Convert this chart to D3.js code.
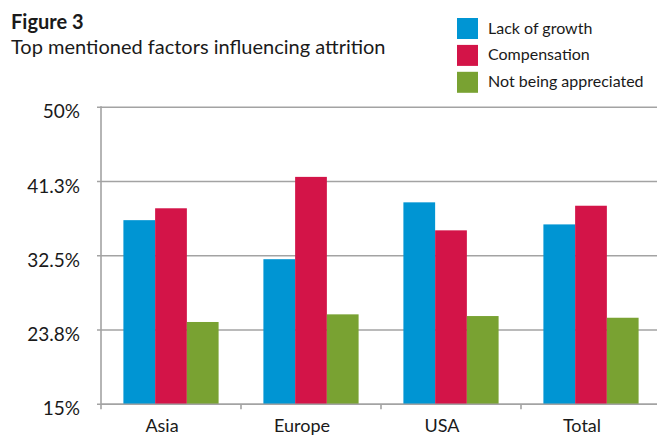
<!DOCTYPE html>
<meta charset="utf-8" />
<style>
    body { margin: 0; background: #fff; }
    text { font-family: Lato, "Open Sans", sans-serif; fill: #1a1a1a; }
    .grid line { stroke: #a3a3a3; stroke-width: 1.6; }
</style>
<svg width="664" height="437"></svg>
<script src="https://d3js.org/d3.v7.min.js"></script>
<script>
    // data
    const regions = ['Asia', 'Europe', 'USA', 'Total'];
    const seriesNames = ['Lack of growth', 'Compensation', 'Not being appreciated'];
    const lackOfGrowth = [36.7, 32.1, 38.8, 36.2];
    const compensation = [38.1, 41.8, 35.5, 38.4];
    const notAppreciated = [24.7, 25.6, 25.4, 25.2];
    const tickValues = [15, 23.75, 32.5, 41.25, 50];
    const tickLabels = ['15%', '23.8%', '32.5%', '41.3%', '50%'];
    const colors = ['#0095d3', '#d31448', '#79a232'];

    const seriesValues = [lackOfGrowth, compensation, notAppreciated];

    const svg = d3.select('svg');

    svg.append('text')
        .attr('x', 11).attr('y', 29)
        .style('font-size', '20px').style('font-weight', 'bold')
        .text('Figure 3');

    svg.append('text')
        .attr('x', 11).attr('y', 54)
        .style('font-size', '20px')
        .text('Top mentioned factors influencing attrition');

    // legend
    const legend = svg.append('g').attr('transform', 'translate(457,18)');
    seriesNames.forEach((name, i) => {
        const row = legend.append('g').attr('transform', `translate(0,${i * 26.9})`);
        row.append('rect').attr('width', 21).attr('height', 21).attr('fill', colors[i]);
        row.append('text').attr('x', 31).attr('y', 15.5).style('font-size', '16px').text(name);
    });

    const left = 101, right = 661, gridRight = 657;
    const y = d3.scaleLinear().domain([15, 50]).range([404.3, 107.3]);
    const x = d3.scaleBand().domain(regions).range([left, right])
        .paddingInner(0.32).paddingOuter(0.16);
    const x1 = d3.scaleBand().domain(seriesNames).range([0, x.bandwidth()]);

    // gridlines + y ticks
    const grid = svg.append('g').attr('class', 'grid');
    grid.selectAll('line.h').data(tickValues).join('line')
        .attr('class', 'h')
        .attr('x1', left - 4).attr('x2', gridRight)
        .attr('y1', d => y(d)).attr('y2', d => y(d));

    svg.append('g').selectAll('text').data(tickValues).join('text')
        .attr('x', 80).attr('y', d => y(d) + 11)
        .attr('text-anchor', 'end')
        .style('font-size', '19px')
        .text((d, i) => tickLabels[i]);

    // bars
    const groups = svg.append('g').selectAll('g').data(regions).join('g')
        .attr('transform', d => `translate(${x(d)},0)`);
    groups.selectAll('rect')
        .data((d, ri) => seriesNames.map((s, si) => ({ s, si, v: seriesValues[si][ri] })))
        .join('rect')
        .attr('x', d => x1(d.s))
        .attr('width', x1.bandwidth())
        .attr('y', d => y(d.v))
        .attr('height', d => y(15) - y(d.v))
        .attr('fill', d => colors[d.si]);

    // axes lines drawn over bars
    const axis = svg.append('g').attr('class', 'grid');
    axis.append('line')
        .attr('x1', left).attr('x2', left)
        .attr('y1', y(50) - 1).attr('y2', y(15) + 5);
    axis.append('line')
        .attr('x1', left).attr('x2', gridRight)
        .attr('y1', y(15)).attr('y2', y(15));
    axis.selectAll('line.tk').data(regions.slice(1)).join('line')
        .attr('class', 'tk')
        .attr('x1', d => x(d) - x.step() * x.paddingOuter())
        .attr('x2', d => x(d) - x.step() * x.paddingOuter())
        .attr('y1', y(15)).attr('y2', y(15) + 5);

    svg.append('g').selectAll('text').data(regions).join('text')
        .attr('x', d => x(d) + x.bandwidth() / 2 - 9)
        .attr('y', 432)
        .attr('text-anchor', 'middle')
        .style('font-size', '18px')
        .text(d => d);
</script>
